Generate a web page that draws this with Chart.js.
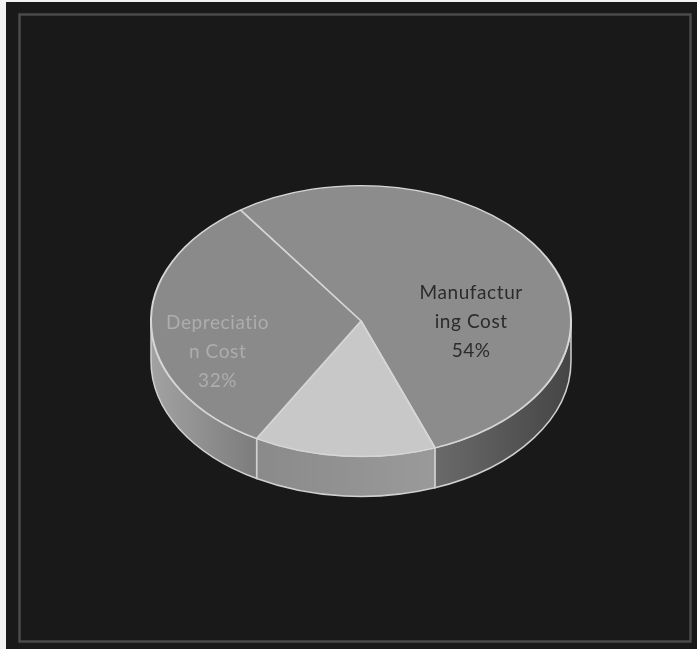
<!DOCTYPE html>
<html>
<head>
<meta charset="utf-8">
<script src="https://cdn.jsdelivr.net/npm/chart.js@4/dist/chart.umd.min.js"></script>
<style>
  html, body { margin: 0; padding: 0; background: #f2f2f2; }
  #wrap { position: absolute; left: 0; top: 0; width: 697px; height: 649px; }
</style>
</head>
<body>
<div id="wrap"><canvas id="c" width="697" height="649"></canvas></div>
<script>
// ---- data ----
const categories = ['Manufacturing Cost', 'Other Cost', 'Depreciation Cost'];
const values = [54, 14, 32];
const labelLines = [['Manufactur', 'ing Cost'], null, ['Depreciatio', 'n Cost']];

// ---- styles ----
const topColors = ['#8c8c8c', '#c8c8c8', '#8a8a8a'];
const sideColors = [['#454545', '#6a6a6a'], ['#9a9a9a', '#8a8a8a'], ['#7c7c7c', '#a2a2a2']];
const labelColors = ['#2b2b2b', '#cfcfcf', '#adadad'];

const pie3d = {
  id: 'pie3d',
  beforeDraw(chart) {
    const ctx = chart.ctx;
    ctx.save();
    ctx.fillStyle = '#f2f2f2';
    ctx.fillRect(0, 0, chart.width, chart.height);
    ctx.fillStyle = '#191919';
    ctx.fillRect(6, 2, chart.width - 6, chart.height - 2);
    ctx.strokeStyle = '#4a4a4a';
    ctx.lineWidth = 2.5;
    ctx.strokeRect(19.5, 14.5, 671, 627);
    ctx.restore();
  },
  beforeDatasetsDraw(chart, args, opts) {
    const ctx = chart.ctx;
    const meta = chart.getDatasetMeta(0);
    const k = opts.tilt, depth = opts.depth;
    let cy = 0;
    meta.data.forEach((arc, i) => {
      const p = arc.getProps(['x', 'y', 'startAngle', 'endAngle', 'outerRadius'], true);
      cy = p.y;
      const rx = p.outerRadius, ry = p.outerRadius * k;
      for (const off of [-2 * Math.PI, 0, 2 * Math.PI]) {
        const lo = Math.max(p.startAngle, off), hi = Math.min(p.endAngle, off + Math.PI);
        if (lo < hi) {
          const x1 = p.x + rx * Math.cos(lo), x2 = p.x + rx * Math.cos(hi);
          const g = ctx.createLinearGradient(x1, 0, x2 === x1 ? x1 + 1 : x2, 0);
          g.addColorStop(0, sideColors[i][0]);
          g.addColorStop(1, sideColors[i][1]);
          ctx.save();
          ctx.beginPath();
          ctx.ellipse(p.x, p.y, rx, ry, 0, lo, hi, false);
          ctx.lineTo(p.x + rx * Math.cos(hi), p.y + ry * Math.sin(hi) + depth);
          ctx.ellipse(p.x, p.y + depth, rx, ry, 0, hi, lo, true);
          ctx.closePath();
          ctx.fillStyle = g;
          ctx.fill();
          ctx.strokeStyle = opts.edgeColor;
          ctx.lineWidth = 1.5;
          ctx.stroke();
          ctx.restore();
        }
      }
    });
    ctx.save();
    ctx.translate(0, cy);
    ctx.scale(1, k);
    ctx.translate(0, -cy);
  },
  afterDatasetsDraw(chart, args, opts) {
    const ctx = chart.ctx;
    ctx.restore();
    const meta = chart.getDatasetMeta(0);
    const total = values.reduce((a, b) => a + b, 0);
    ctx.save();
    ctx.font = opts.font;
    ctx.textAlign = 'center';
    ctx.textBaseline = 'middle';
    if ('letterSpacing' in ctx) ctx.letterSpacing = '0.6px';
    meta.data.forEach((arc, i) => {
      if (!labelLines[i]) return;
      const p = arc.getProps(['x', 'y', 'startAngle', 'endAngle', 'outerRadius'], true);
      const mid = (p.startAngle + p.endAngle) / 2;
      const r = p.outerRadius * opts.labelRadius;
      const px = p.x + r * Math.cos(mid) + opts.labelOffsets[i][0];
      const py = p.y + r * opts.tilt * Math.sin(mid) + opts.labelOffsets[i][1];
      const lines = labelLines[i].concat([Math.round(values[i] / total * 100) + '%']);
      const lh = opts.lineHeight;
      ctx.fillStyle = labelColors[i];
      lines.forEach((t, j) => {
        ctx.fillText(t, px, py + (j - (lines.length - 1) / 2) * lh);
      });
    });
    ctx.restore();
  }
};

new Chart(document.getElementById('c'), {
  type: 'pie',
  data: {
    labels: categories,
    datasets: [{
      data: values,
      backgroundColor: topColors,
      borderColor: '#d6d6d6',
      borderWidth: 2,
      clip: false
    }]
  },
  options: {
    responsive: false,
    animation: false,
    rotation: -35,
    layout: { padding: { left: 150, right: 125, top: 110, bottom: 117 } },
    plugins: {
      legend: { display: false },
      tooltip: { enabled: false },
      pie3d: {
        tilt: 0.645,
        depth: 40,
        edgeColor: '#d0d0d0',
        labelRadius: 0.55,
        labelOffsets: [[8, 36], [0, 0], [-28, 27]],
        font: '19px Lato',
        lineHeight: 29
      }
    }
  },
  plugins: [pie3d]
});
</script>
</body>
</html>
